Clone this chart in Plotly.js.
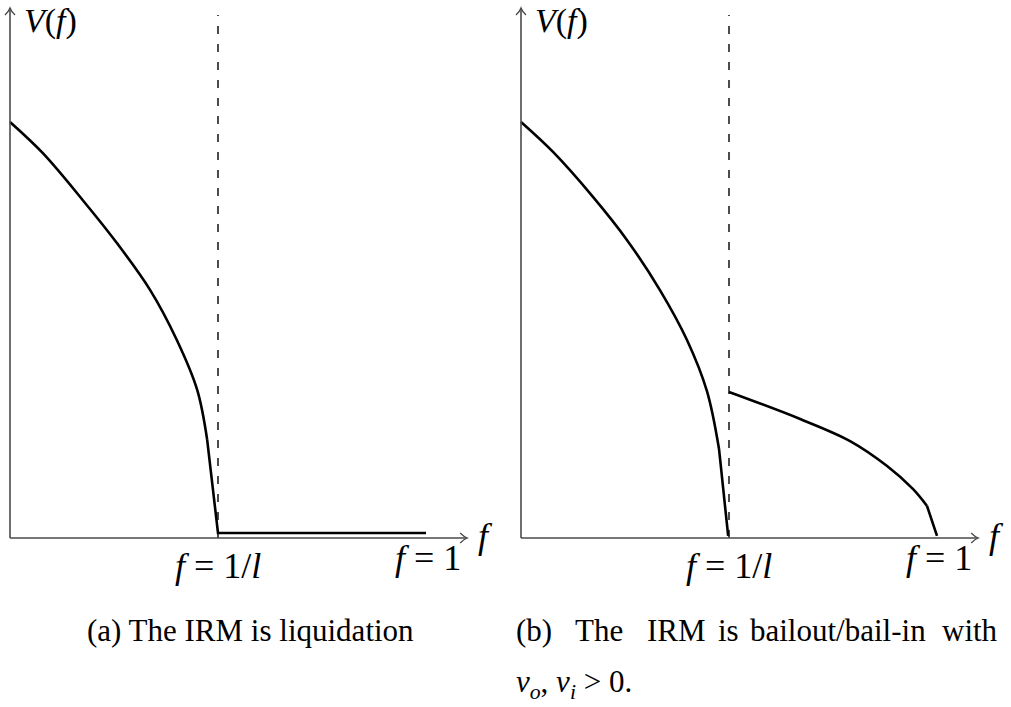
<!DOCTYPE html>
<html>
<head>
<meta charset="utf-8">
<script src="https://cdn.plot.ly/plotly-3.0.1.min.js"></script>
<style>
  html, body { margin: 0; padding: 0; background: #fff; }
  #chart { width: 1011px; height: 707px; }
</style>
</head>
<body>
<div id="chart"></div>
<script>
// ---- data (f in units where f = 1 is the right end; 1/l = 0.5) ----
const invL = 0.5;

// Panel (a): liquidation  (smooth part up to the kink, then straight pieces)
const fA = [0, 0.079, 0.175, 0.257, 0.337, 0.401, 0.450, 0.474, 0.5, 1.0];
const vA = [1.0, 0.925, 0.812, 0.709, 0.596, 0.476, 0.356, 0.236, 0.012, 0.012];
const kinkA = 7;

// Panel (b): bailout / bail-in, branch left of 1/l
const fB1 = [0, 0.077, 0.173, 0.255, 0.334, 0.399, 0.447, 0.476, 0.498];
const vB1 = [1.0, 0.928, 0.820, 0.716, 0.596, 0.476, 0.353, 0.214, 0.005];
const kinkB1 = 7;
// branch right of 1/l
const fB2 = [0.5, 0.671, 0.791, 0.880, 0.942, 0.976, 1.0];
const vB2 = [0.351, 0.286, 0.233, 0.173, 0.118, 0.077, 0.005];
const kinkB2 = 5;

// dashed guide at f = 1/l
const dashTop = 1.257;

// axis extents
const xAxisEnd = 1.099;
const yAxisEnd = 1.274;

// labels
const yLabel = '<i>V</i>(<i>f</i>)';
const xLabel = '<i>f</i>';
const tickInvL = '<i>f</i> = 1/<i>l</i>';
const tickOne = '<i>f</i> = 1';
const captionA = '(a) The IRM is liquidation';
const captionBWords = ['(b)', 'The', 'IRM', 'is', 'bailout/bail-in', 'with'];
const captionB2 = '<i>v</i><sub><i>o</i></sub>, <i>v</i><sub><i>i</i></sub> &gt; 0.';

const black = '#000000';
const axisGray = '#4a4a4a';
const serif = 'Liberation Serif, Times New Roman, serif';

const curveLine = {color: black, width: 2.6};
const smoothLine = {color: black, width: 2.6, shape: 'spline', smoothing: 1};

function piece(xs, ys, a, b, xa, smooth) {
  return {x: xs.slice(a, b), y: ys.slice(a, b), xaxis: xa, yaxis: 'y', mode: 'lines',
          line: smooth ? smoothLine : curveLine, hoverinfo: 'skip'};
}

const dashLine = {color: '#3a3a3a', width: 1.8, dash: '8px,10px'};
const traces = [
  {x: [invL, invL], y: [0, dashTop], xaxis: 'x', yaxis: 'y', mode: 'lines', line: dashLine, hoverinfo: 'skip'},
  {x: [invL, invL], y: [0, dashTop], xaxis: 'x2', yaxis: 'y', mode: 'lines', line: dashLine, hoverinfo: 'skip'},
  piece(fA, vA, 0, kinkA + 1, 'x', true),
  piece(fA, vA, kinkA, fA.length, 'x', false),
  piece(fB1, vB1, 0, kinkB1 + 1, 'x2', true),
  piece(fB1, vB1, kinkB1, fB1.length, 'x2', false),
  piece(fB2, vB2, 0, kinkB2 + 1, 'x2', true),
  piece(fB2, vB2, kinkB2, fB2.length, 'x2', false)
];

function axisShapes(xr) {
  return [
    {type: 'line', xref: xr, yref: 'y', x0: 0, y0: 0, x1: xAxisEnd, y1: 0,
     line: {color: axisGray, width: 1.6}},
    {type: 'line', xref: xr, yref: 'y', x0: 0, y0: 0, x1: 0, y1: yAxisEnd,
     line: {color: axisGray, width: 1.6}},
    {type: 'path', xref: xr, yref: 'y', xsizemode: 'pixel', ysizemode: 'pixel',
     xanchor: xAxisEnd, yanchor: 0, path: 'M-7,5 Q-3,1 0,0 Q-3,-1 -7,-5',
     line: {color: axisGray, width: 1.3}},
    {type: 'path', xref: xr, yref: 'y', xsizemode: 'pixel', ysizemode: 'pixel',
     xanchor: 0, yanchor: yAxisEnd, path: 'M-5,-7 Q-1,-3 0,0 Q1,-3 5,-7',
     line: {color: axisGray, width: 1.3}}
  ];
}

function panelLabels(xr) {
  const f = {family: serif, size: 36, color: black};
  return [
    {xref: xr, yref: 'y', x: 0.028, y: 1.242, text: yLabel, showarrow: false,
     xanchor: 'left', yanchor: 'middle', font: {family: serif, size: 34, color: black}},
    {xref: xr, yref: 'y', x: invL, y: -0.068, text: tickInvL, showarrow: false,
     xanchor: 'center', yanchor: 'middle', font: f},
    {xref: xr, yref: 'y', x: 1.005, y: -0.048, text: tickOne, showarrow: false,
     xanchor: 'center', yanchor: 'middle', font: f},
    {xref: xr, yref: 'y', x: 1.142, y: 0.006, text: xLabel, showarrow: false,
     xanchor: 'center', yanchor: 'middle', font: f}
  ];
}

const capFont = {family: serif, size: 31, color: black};
const captionBx = [514, 573, 645, 716, 748, 1000];
const annotations = [].concat(
  panelLabels('x'), panelLabels('x2'),
  [{xref: 'paper', yref: 'paper', x: 85 / 1011, y: 1 - 630 / 707, text: captionA,
    showarrow: false, xanchor: 'left', yanchor: 'middle', font: capFont}],
  captionBWords.map((w, i) => ({xref: 'paper', yref: 'paper', x: captionBx[i] / 1011,
    y: 1 - 630 / 707, text: w, showarrow: false,
    xanchor: i === captionBWords.length - 1 ? 'right' : 'left', yanchor: 'middle', font: capFont})),
  [{xref: 'paper', yref: 'paper', x: 514 / 1011, y: 1 - 684 / 707, text: captionB2,
    showarrow: false, xanchor: 'left', yanchor: 'middle', font: capFont}]
);

const hidden = {visible: false, fixedrange: true};
const layout = {
  width: 1011, height: 707,
  margin: {l: 0, r: 0, t: 0, b: 0},
  paper_bgcolor: '#ffffff', plot_bgcolor: '#ffffff',
  showlegend: false,
  xaxis: Object.assign({domain: [0, 0.5], range: [-10 / 416, 495.5 / 416]}, hidden),
  xaxis2: Object.assign({domain: [0.5, 1], range: [-15.5 / 416, 490 / 416]}, hidden),
  yaxis: Object.assign({domain: [0, 1], range: [(538 - 707) / 416, 538 / 416]}, hidden),
  shapes: axisShapes('x').concat(axisShapes('x2')),
  annotations: annotations
};

Plotly.newPlot('chart', traces, layout, {displayModeBar: false, staticPlot: true});
</script>
</body>
</html>
